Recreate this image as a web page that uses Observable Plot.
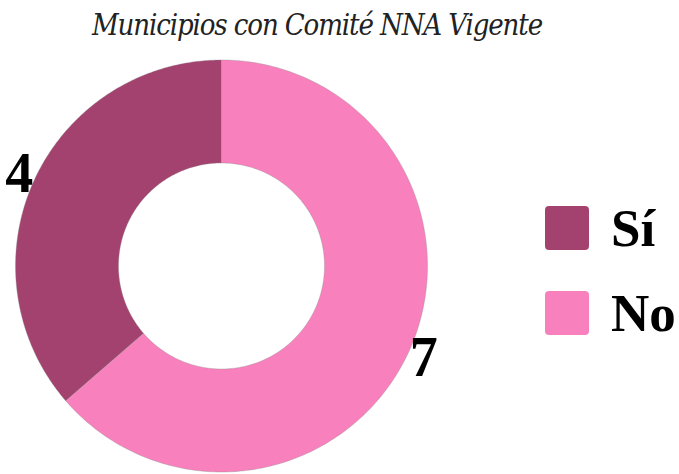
<!DOCTYPE html>
<html>
<head>
<meta charset="utf-8">
<script src="https://cdn.jsdelivr.net/npm/d3@7"></script>
<script src="https://cdn.jsdelivr.net/npm/@observablehq/plot@0.6"></script>
<style>
  html, body { margin: 0; padding: 0; background: #fff; }
  #wrap { position: relative; width: 679px; height: 474px; overflow: hidden; }
  #title { position: absolute; left: 92px; top: 5px; height: 40px;
    font-family: "DejaVu Serif", "Liberation Serif", serif; font-style: italic; font-stretch: condensed;
    color: #222; white-space: nowrap; line-height: 40px; }
  #chart { position: absolute; left: 0; top: 50px; }
  #legend { position: absolute; left: 545px; top: 206px; }
  .item { display: flex; align-items: center; height: 44px; margin-bottom: 41px; }
  .sw { width: 44px; height: 44px; border-radius: 4px; margin-right: 22px; }
  .lab { font-family: "Liberation Serif", serif; font-weight: bold; font-size: 53px; color: #000; line-height: 44px; }
</style>
</head>
<body>
<div id="wrap">
  <div id="title"></div>
  <div id="chart"></div>
  <div id="legend"></div>
</div>
<script>
const titleText = "Municipios con Comité NNA Vigente";
const categories = ["Sí", "No"];
const values = [4, 7];
const colors = ["#a3426f", "#f880bd"];
const innerRatio = 0.5;

// title: fit to the reference width
const t = document.getElementById("title");
t.textContent = titleText;
t.style.fontSize = "29px";
const w0 = t.getBoundingClientRect().width;
const target = 450;
t.style.letterSpacing = ((target - w0) / titleText.length) + "px";

// pie angles (start at 12 o'clock, counterclockwise)
const arcs = d3.pie().sort(null).startAngle(0).endAngle(-2 * Math.PI)(values);

const ringPts = [];
arcs.forEach((a, i) => {
  const n = 240;
  for (let k = 0; k <= n; k++) {
    const th = a.startAngle + (a.endAngle - a.startAngle) * k / n;
    ringPts.push({cat: categories[i], x: Math.sin(th), y: Math.cos(th)});
  }
  for (let k = n; k >= 0; k--) {
    const th = a.startAngle + (a.endAngle - a.startAngle) * k / n;
    ringPts.push({cat: categories[i], x: innerRatio * Math.sin(th), y: innerRatio * Math.cos(th)});
  }
});

const labels = arcs.map((a, i) => {
  const m = (a.startAngle + a.endAngle) / 2;
  return {label: String(values[i]), x: 1.08 * Math.sin(m), y: 1.08 * Math.cos(m)};
});

const plot = Plot.plot({
  width: 679,
  height: 424,
  x: {domain: [-1, 1], range: [15, 427], axis: null},
  y: {domain: [-1, 1], range: [421.5, 9.5], axis: null},
  color: {domain: categories, range: colors},
  style: {background: "transparent", overflow: "visible"},
  marks: [
    Plot.line(ringPts, {x: "x", y: "y", z: "cat", fill: "cat", stroke: "#8d8d8d", strokeWidth: 0.5, strokeOpacity: 0.7, curve: "linear-closed"}),
    Plot.text(labels, {x: "x", y: "y", text: "label", fontSize: 56, fontWeight: "bold", fontFamily: "Liberation Serif", fill: "#000"})
  ]
});
document.getElementById("chart").appendChild(plot);

// legend
const lg = document.getElementById("legend");
categories.forEach((c, i) => {
  const it = document.createElement("div");
  it.className = "item";
  const sw = document.createElement("div");
  sw.className = "sw";
  sw.style.background = colors[i];
  const lb = document.createElement("span");
  lb.className = "lab";
  lb.textContent = c;
  it.appendChild(sw); it.appendChild(lb);
  lg.appendChild(it);
});
</script>
</body>
</html>
